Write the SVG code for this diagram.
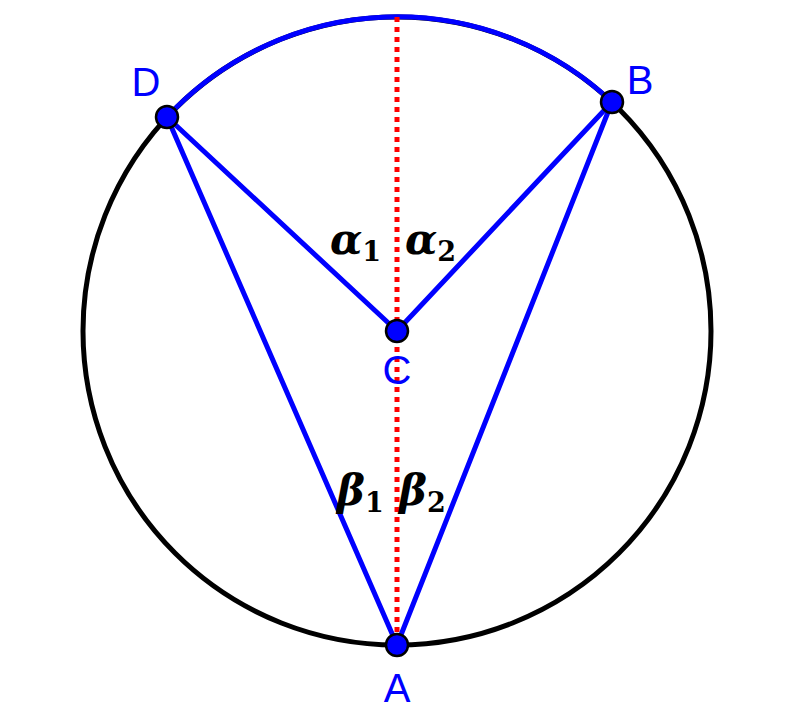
<svg xmlns="http://www.w3.org/2000/svg" width="800" height="715" viewBox="0 0 800 715">
<style>
.blue{stroke:#0000ff;stroke-width:5;fill:none;stroke-linecap:round}
.black{stroke:#000;stroke-width:5;fill:none}
.red{stroke:#ff0000;stroke-width:5;stroke-dasharray:5 5;fill:none}
.pt{fill:#0000ff;stroke:#000;stroke-width:2.5}
.lbl{font-family:"Liberation Sans",Arial,sans-serif;font-size:40px;fill:#0000ff;text-anchor:middle}
.math{font-family:"DejaVu Serif","Liberation Serif",serif;font-weight:bold;fill:#000}
.g{font-style:italic;font-size:42px}
.s{font-size:27px;font-style:normal}
</style>
<rect width="800" height="715" fill="#fff"/>
<g id="circle">
<circle class="black" cx="397" cy="331" r="314"/>
<path class="blue" d="M167 117 A314 314 0 0 1 612 102"/>
</g>
<g id="connectors">
<line class="red" x1="397" y1="17" x2="397" y2="645"/>
<line class="blue" x1="167" y1="117" x2="397" y2="331"/>
<line class="blue" x1="612" y1="102" x2="397" y2="331"/>
<line class="blue" x1="167" y1="117" x2="397" y2="645"/>
<line class="blue" x1="612" y1="102" x2="397" y2="645"/>
</g>
<g id="labels">
<text class="math" x="330" y="254"><tspan class="g">α</tspan><tspan class="s" dy="7">1</tspan></text>
<text class="math" x="405" y="254"><tspan class="g">α</tspan><tspan class="s" dy="7">2</tspan></text>
<text class="math" x="337" y="505"><tspan class="g">β</tspan><tspan class="s" dy="7">1</tspan></text>
<text class="math" x="399" y="505"><tspan class="g">β</tspan><tspan class="s" dy="7">2</tspan></text>
</g>
<g id="node-D"><circle class="pt" cx="167" cy="117" r="11"/><text class="lbl" x="146" y="96">D</text></g>
<g id="node-B"><circle class="pt" cx="612" cy="102" r="11"/><text class="lbl" x="640" y="94">B</text></g>
<g id="node-C"><circle class="pt" cx="397" cy="331" r="11"/><text class="lbl" x="397" y="384">C</text></g>
<g id="node-A"><circle class="pt" cx="397" cy="645" r="11"/><text class="lbl" x="397" y="702">A</text></g>
</svg>
